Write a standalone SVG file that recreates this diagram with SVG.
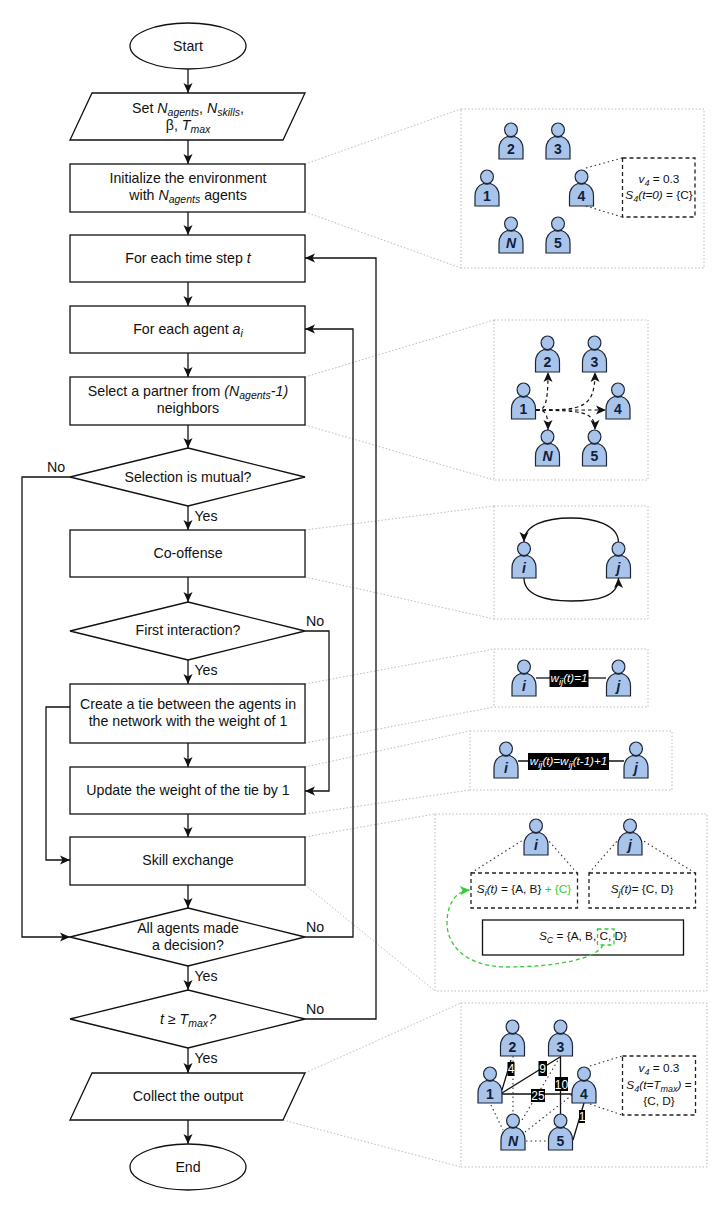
<svg xmlns="http://www.w3.org/2000/svg" xmlns:xlink="http://www.w3.org/1999/xlink" width="720" height="1214" viewBox="0 0 720 1214">
<style>
text{font-family:"Liberation Sans",Arial,sans-serif;fill:#111;text-anchor:middle}
.f{font-size:14.2px}
.s{font-size:11.8px}
.p{font-size:14px;font-weight:bold;fill:#10203a}
.pi{font-style:italic}
.i{font-style:italic}
.sh{fill:#fff;stroke:#111;stroke-width:1.3}
.c{fill:none;stroke:#111;stroke-width:1.3;marker-end:url(#a)}
.g{fill:none;stroke:#bbb;stroke-width:1;stroke-dasharray:1.5 2}
.pn{fill:#fff;stroke:#bbb;stroke-width:1;stroke-dasharray:1.5 2}
.db{fill:#fff;stroke:#222;stroke-width:1.3;stroke-dasharray:4 3}
.dt{fill:none;stroke:#333;stroke-width:1.1;stroke-dasharray:1.5 3}
.da{fill:none;stroke:#111;stroke-width:1.2;stroke-dasharray:3.5 3;marker-end:url(#a)}
.e{fill:none;stroke:#111;stroke-width:1.3}
.lb{fill:#000}
.w{fill:#fff;font-size:11.6px;font-style:italic}
.n{fill:#fff;font-size:12px}
.gr{fill:none;stroke:#3c3;stroke-width:1.3;stroke-dasharray:4 3}
</style>
<defs>
<marker id="a" markerUnits="userSpaceOnUse" markerWidth="12" markerHeight="12" refX="10" refY="5" orient="auto"><path d="M0,0.5 L10,5 L0,9.5 L2.5,5 Z" fill="#111"/></marker>
<marker id="ag" markerUnits="userSpaceOnUse" markerWidth="12" markerHeight="12" refX="10" refY="5" orient="auto"><path d="M0,0.5 L10,5 L0,9.5 L2.5,5 Z" fill="#3c3"/></marker>
<g id="actor"><path d="M-12,36 V26 C-12,19 -9,15.5 -3.5,13.5 C-1.5,14.200 1.500,14.200 3.500,13.500 C9,15.500 12,19 12,26 V36 Z" fill="#a9c4eb" stroke="#1c2636" stroke-width="1.200"/><ellipse cx="0" cy="6.800" rx="6.400" ry="6.800" fill="#a9c4eb" stroke="#1c2636" stroke-width="1.200"/></g>
</defs>
<rect width="720" height="1214" fill="#fff"/>

<g id="panel-links">
<path class="g" d="M305,164 L461,109 M305,212 L461,268 M305,377 L494,320 M305,425 L494,480 M305,530 L494,506 M305,577 L494,619 M305,684 L494,649 M305,743 L494,707 M305,767 L470,731 M305,814 L470,790 M305,837 L435,814 M305,885 L435,991 M305,1073 L461,1003 M283,1120 L461,1167"/>
</g>

<g id="connectors">
<path class="c" d="M188,69 V93"/>
<path class="c" d="M188,140 V164"/>
<path class="c" d="M188,212 V235"/>
<path class="c" d="M188,282 V306"/>
<path class="c" d="M188,353 V377"/>
<path class="c" d="M188,425 V448"/>
<path class="c" d="M188,506 V530"/>
<path class="c" d="M188,577 V602"/>
<path class="c" d="M188,660 V684"/>
<path class="c" d="M188,743 V767"/>
<path class="c" d="M188,814 V837"/>
<path class="c" d="M188,885 V908"/>
<path class="c" d="M188,966 V990"/>
<path class="c" d="M188,1048 V1073"/>
<path class="c" d="M188,1120 V1144"/>
<path class="c" d="M70,477 H22 V937 H70"/>
<path class="c" d="M305,631 H329 V791 H305"/>
<path class="c" d="M70,707 H46 V860 H70"/>
<path class="c" d="M305,937 H353 V329 H305"/>
<path class="c" d="M305,1019 H376 V258 H305"/>
<text class="f" x="56" y="472">No</text>
<text class="f" x="315" y="626">No</text>
<text class="f" x="315" y="932">No</text>
<text class="f" x="315" y="1014">No</text>
<text class="f" x="206" y="521">Yes</text>
<text class="f" x="206" y="675">Yes</text>
<text class="f" x="206" y="981">Yes</text>
<text class="f" x="206" y="1063">Yes</text>
</g>

<g id="start"><ellipse class="sh" cx="188" cy="46" rx="58" ry="23"/><text class="f" x="188" y="51">Start</text></g>
<g id="set-params"><path class="sh" d="M92,93 H305 L283,140 H70 Z"/><text class="f" x="188" y="113">Set <tspan class="i">N</tspan><tspan class="i" dy="3" font-size="10.500">agents</tspan><tspan dy="-3">, </tspan><tspan class="i">N</tspan><tspan class="i" dy="3" font-size="10.500">skills</tspan><tspan dy="-3">,</tspan></text><text class="f" x="188" y="130">β, <tspan class="i">T</tspan><tspan class="i" dy="3" font-size="10.500">max</tspan></text></g>
<g id="init"><rect class="sh" x="70" y="164" width="235" height="48"/><text class="f" x="188" y="183">Initialize the environment</text><text class="f" x="188" y="200">with <tspan class="i">N</tspan><tspan class="i" dy="3" font-size="10.500">agents</tspan><tspan dy="-3"> agents</tspan></text></g>
<g id="each-time"><rect class="sh" x="70" y="235" width="235" height="47"/><text class="f" x="188" y="263">For each time step <tspan class="i">t</tspan></text></g>
<g id="each-agent"><rect class="sh" x="70" y="306" width="235" height="47"/><text class="f" x="188" y="334">For each agent <tspan class="i">a</tspan><tspan class="i" dy="3" font-size="10.500">i</tspan></text></g>
<g id="select"><rect class="sh" x="70" y="377" width="235" height="48"/><text class="f" x="188" y="396">Select a partner from <tspan class="i">(N</tspan><tspan class="i" dy="3" font-size="10.500">agents</tspan><tspan class="i" dy="-3">-1)</tspan></text><text class="f" x="188" y="413">neighbors</text></g>
<g id="mutual"><path class="sh" d="M188,448 L305,477 L188,506 L70,477 Z"/><text class="f" x="188" y="482">Selection is mutual?</text></g>
<g id="cooffense"><rect class="sh" x="70" y="530" width="235" height="47"/><text class="f" x="188" y="558">Co-offense</text></g>
<g id="first"><path class="sh" d="M188,602 L305,631 L188,660 L70,631 Z"/><text class="f" x="188" y="635">First interaction?</text></g>
<g id="create"><rect class="sh" x="70" y="684" width="235" height="59"/><text class="f" x="188" y="709">Create a tie between the agents in</text><text class="f" x="188" y="726">the network with the weight of 1</text></g>
<g id="update"><rect class="sh" x="70" y="767" width="235" height="47"/><text class="f" x="188" y="795">Update the weight of the tie by 1</text></g>
<g id="skill"><rect class="sh" x="70" y="837" width="235" height="48"/><text class="f" x="188" y="865">Skill exchange</text></g>
<g id="all-agents"><path class="sh" d="M188,908 L305,937 L188,966 L70,937 Z"/><text class="f" x="188" y="933">All agents made</text><text class="f" x="188" y="950">a decision?</text></g>
<g id="tmax"><path class="sh" d="M188,990 L305,1019 L188,1048 L70,1019 Z"/><text class="f" x="188" y="1024"><tspan class="i">t</tspan> ≥ <tspan class="i">T</tspan><tspan class="i" dy="3" font-size="10.500">max</tspan><tspan class="i" dy="-3">?</tspan></text></g>
<g id="collect"><path class="sh" d="M92,1073 H305 L283,1120 H70 Z"/><text class="f" x="188" y="1101">Collect the output</text></g>
<g id="end"><ellipse class="sh" cx="188" cy="1167" rx="58" ry="23"/><text class="f" x="188" y="1172">End</text></g>

<g id="panel-init">
<rect class="pn" x="461" y="109" width="243" height="159"/>
<path class="dt" d="M586,168 L622,158 M586,206 L622,217"/>
<rect class="db" x="622.500" y="158" width="72.500" height="59"/>
<text class="s" x="659" y="183"><tspan class="i">v</tspan><tspan class="i" dy="3" font-size="9">4</tspan><tspan dy="-3"> = 0.3</tspan></text>
<text class="s" x="659" y="199"><tspan class="i">S</tspan><tspan class="i" dy="3" font-size="9">4</tspan><tspan class="i" dy="-3">(t=0)</tspan> = {C}</text>
<g id="p1-2"><use xlink:href="#actor" href="#actor" x="511" y="123"/><text class="p" x="511" y="154">2</text></g>
<g id="p1-3"><use xlink:href="#actor" href="#actor" x="558" y="123"/><text class="p" x="558" y="154">3</text></g>
<g id="p1-1"><use xlink:href="#actor" href="#actor" x="487" y="170"/><text class="p" x="487" y="201">1</text></g>
<g id="p1-4"><use xlink:href="#actor" href="#actor" x="581.500" y="170"/><text class="p" x="581.500" y="201">4</text></g>
<g id="p1-N"><use xlink:href="#actor" href="#actor" x="511" y="217"/><text class="p pi" x="511" y="248">N</text></g>
<g id="p1-5"><use xlink:href="#actor" href="#actor" x="558" y="217"/><text class="p" x="558" y="248">5</text></g>
</g>

<g id="panel-select">
<rect class="pn" x="494" y="320" width="154" height="160"/>
<g id="p2-2"><use xlink:href="#actor" href="#actor" x="547.500" y="336"/><text class="p" x="547.500" y="367">2</text></g>
<g id="p2-3"><use xlink:href="#actor" href="#actor" x="594.500" y="336"/><text class="p" x="594.500" y="367">3</text></g>
<g id="p2-1"><use xlink:href="#actor" href="#actor" x="523.500" y="383"/><text class="p" x="523.500" y="414">1</text></g>
<g id="p2-4"><use xlink:href="#actor" href="#actor" x="618" y="383"/><text class="p" x="618" y="414">4</text></g>
<g id="p2-N"><use xlink:href="#actor" href="#actor" x="547.500" y="430"/><text class="p pi" x="547.500" y="461">N</text></g>
<g id="p2-5"><use xlink:href="#actor" href="#actor" x="594.500" y="430"/><text class="p" x="594.500" y="461">5</text></g>
<path class="da" d="M536,410 C544,410 548,408 548,372"/>
<path class="da" d="M536,410 C544,410 548,411 548,430"/>
<path class="da" d="M536,410 C582,410 595,409 595,372"/>
<path class="da" d="M536,410 C582,411 595,411 595,430"/>
<path class="da" d="M536,410 H606"/>
</g>

<g id="panel-offense">
<rect class="pn" x="494" y="506" width="154" height="113"/>
<g id="p3-i"><use xlink:href="#actor" href="#actor" x="524" y="542"/><text class="p pi" x="524" y="573">i</text></g>
<g id="p3-j"><use xlink:href="#actor" href="#actor" x="618.500" y="542"/><text class="p pi" x="618.500" y="573">j</text></g>
<path class="c" d="M618.500,542 C618,525 595,518 571,518 C545,518 524,525 524,542"/>
<path class="c" d="M524,578 C524,595 545,601 571,601 C597,601 618.500,597 618.500,578"/>
</g>

<g id="panel-tie">
<rect class="pn" x="494" y="649" width="154" height="58"/>
<g id="p4-i"><use xlink:href="#actor" href="#actor" x="524" y="660"/><text class="p pi" x="524" y="691">i</text></g>
<g id="p4-j"><use xlink:href="#actor" href="#actor" x="618.500" y="660"/><text class="p pi" x="618.500" y="691">j</text></g>
<path d="M536,678 H606" fill="none" stroke="#333" stroke-width="1.600"/>
<rect class="lb" x="549.500" y="670" width="39" height="17"/>
<text class="w" x="569" y="682">w<tspan dy="3" font-size="9.500">ij</tspan><tspan dy="-3">(t)=1</tspan></text>
</g>

<g id="panel-update">
<rect class="pn" x="470" y="731" width="202" height="59"/>
<g id="p5-i"><use xlink:href="#actor" href="#actor" x="506" y="742"/><text class="p pi" x="506" y="773">i</text></g>
<g id="p5-j"><use xlink:href="#actor" href="#actor" x="636" y="742"/><text class="p pi" x="636" y="773">j</text></g>
<path class="e" d="M518,761 H624"/>
<rect class="lb" x="528" y="753" width="81" height="17"/>
<text class="w" x="568.500" y="765">w<tspan dy="3" font-size="9.500">ij</tspan><tspan dy="-3">(t)=w</tspan><tspan dy="3" font-size="9.500">ij</tspan><tspan dy="-3">(t-1)+1</tspan></text>
</g>

<g id="panel-exchange">
<rect class="pn" x="435" y="814" width="272" height="177"/>
<path class="dt" d="M471,873 L523,840 M577,873 L548,840 M589,873 L618,840 M695,873 L642,840"/>
<rect class="db" x="471" y="873" width="106.500" height="35"/>
<rect class="db" x="589" y="873" width="106.500" height="35"/>
<rect x="482.500" y="920" width="201" height="35" fill="#fff" stroke="#111" stroke-width="1.300"/>
<g id="p6-i"><use xlink:href="#actor" href="#actor" x="536" y="819"/><text class="p pi" x="536" y="850">i</text></g>
<g id="p6-j"><use xlink:href="#actor" href="#actor" x="630" y="819"/><text class="p pi" x="630" y="850">j</text></g>
<text class="s" x="524" y="893"><tspan class="i">S</tspan><tspan class="i" dy="3" font-size="9">i</tspan><tspan class="i" dy="-3">(t)</tspan> = {A, B} <tspan fill="#3c3">+ {C}</tspan></text>
<text class="s" x="642" y="893"><tspan class="i">S</tspan><tspan class="i" dy="3" font-size="9">j</tspan><tspan class="i" dy="-3">(t)</tspan>= {C, D}</text>
<text class="s" x="583" y="940"><tspan class="i">S</tspan><tspan class="i" dy="3" font-size="9">C</tspan><tspan dy="-3"> = {A, B, C, D}</tspan></text>
<rect class="gr" x="597.500" y="929" width="16.500" height="16"/>
<path class="gr" d="M603,945 C597,958 560,967 505,967 C465,966 447,945 447,923 C447,905 455,891 470,890" marker-end="url(#ag)"/>
</g>

<g id="panel-output">
<rect class="pn" x="461" y="1003" width="246" height="164"/>
<path class="dt" d="M590,1066 L622,1056 M590,1104 L622,1115"/>
<rect class="db" x="622.500" y="1056" width="73" height="59"/>
<text class="s" x="659" y="1072"><tspan class="i">v</tspan><tspan class="i" dy="3" font-size="9">4</tspan><tspan dy="-3"> = 0.3</tspan></text>
<text class="s" x="659" y="1089"><tspan class="i">S</tspan><tspan class="i" dy="3" font-size="9">4</tspan><tspan class="i" dy="-3">(t=T</tspan><tspan class="i" dy="3" font-size="9">max</tspan><tspan class="i" dy="-3">)</tspan> =</text>
<text class="s" x="659" y="1105">{C, D}</text>
<path class="e" d="M502,1090 L511,1060 M502,1093 L560,1057 M502,1094 H572 M560.500,1056 V1114 M584,1103 L573,1140"/>
<path class="dt" d="M491,1105 L503,1130 M513,1056 V1114 M560,1057 L522,1120 M572,1095 L525,1132 M526,1141 H548"/>
<g id="p7-2"><use xlink:href="#actor" href="#actor" x="512.500" y="1020"/><text class="p" x="512.500" y="1052">2</text></g>
<g id="p7-3"><use xlink:href="#actor" href="#actor" x="560.500" y="1020"/><text class="p" x="560.500" y="1052">3</text></g>
<g id="p7-1"><use xlink:href="#actor" href="#actor" x="490" y="1067"/><text class="p" x="490" y="1099">1</text></g>
<g id="p7-4"><use xlink:href="#actor" href="#actor" x="584" y="1067"/><text class="p" x="584" y="1099">4</text></g>
<g id="p7-N"><use xlink:href="#actor" href="#actor" x="513" y="1114"/><text class="p pi" x="513" y="1146">N</text></g>
<g id="p7-5"><use xlink:href="#actor" href="#actor" x="560.500" y="1114"/><text class="p" x="560.500" y="1146">5</text></g>
<rect class="lb" x="507.500" y="1062" width="7" height="14"/><text class="n" x="511" y="1073">4</text>
<rect class="lb" x="538.500" y="1061" width="8.500" height="15"/><text class="n" x="542.700" y="1073">9</text>
<rect class="lb" x="531" y="1089" width="14" height="13"/><text class="n" x="538" y="1100">25</text>
<rect class="lb" x="555" y="1077" width="13" height="14"/><text class="n" x="561.500" y="1088.500">10</text>
<rect class="lb" x="579" y="1110" width="6" height="13"/><text class="n" x="582" y="1121">1</text>
</g>
</svg>
